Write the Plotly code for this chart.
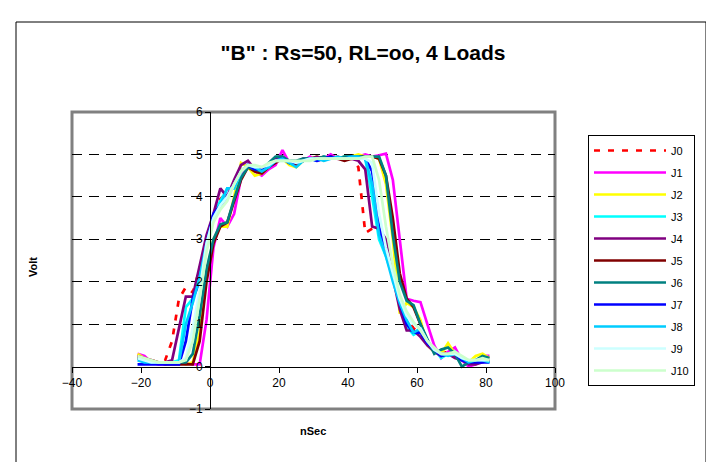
import plotly.graph_objects as go

# time base (ns)
t_ns = [-21, -19, -17, -15, -13, -11, -9, -7, -5, -3, -1, 1, 3,
        5, 7, 9, 11, 13, 15, 17, 19, 21, 23, 25, 27, 29,
        31, 33, 35, 37, 39, 41, 43, 45, 47, 49, 51, 53, 55,
        57, 59, 61, 63, 65, 67, 69, 71, 73, 75, 77, 79, 81]

J0 = [0.25, 0.2, 0.15, 0.1, 0.15, 0.6, 1.6, 1.87, 1.75, 2.3, 3.0, 3.5, 3.95,
      4.1, 4.3, 4.6, 4.75, 4.6, 4.6, 4.75, 4.85, 4.9, 4.8, 4.8, 4.85, 4.9,
      4.9, 4.95, 4.9, 4.95, 4.9, 4.9, 4.7, 3.15, 3.25, 3.15, 2.8, 2.2, 1.6,
      1.2, 0.9, 0.8, 0.55, 0.4, 0.3, 0.35, 0.25, 0.15, 0.1, 0.1, 0.15, 0.15]
J1 = [0.3, 0.25, 0.1, 0.05, 0.05, 0.1, 0.1, 0.1, 0.05, 0.05, 1.1, 2.8, 3.5,
      3.3, 3.6, 4.45, 4.75, 4.6, 4.5, 4.65, 4.75, 5.1, 4.8, 4.75, 4.85, 4.95,
      4.85, 4.9, 5.0, 4.9, 4.95, 4.95, 4.95, 5.0, 4.95, 4.98, 5.02, 4.4, 3.0,
      1.6, 1.55, 1.52, 1.0, 0.5, 0.2, 0.35, 0.45, 0.15, 0.0, 0.05, 0.25, 0.25]
J2 = [0.3, 0.2, 0.15, 0.1, 0.1, 0.1, 0.1, 0.05, 0.1, 0.8, 2.2, 3.0, 3.3,
      3.3, 4.0, 4.8, 4.7, 4.5, 4.55, 4.7, 4.85, 4.9, 4.75, 4.7, 4.85, 4.9,
      4.95, 4.85, 4.95, 4.9, 4.95, 4.95, 5.0, 4.95, 4.95, 4.9, 4.3, 3.0, 1.25,
      1.5, 1.4, 1.1, 0.5, 0.35, 0.3, 0.55, 0.3, 0.2, 0.1, 0.25, 0.3, 0.2]
J3 = [0.2, 0.15, 0.1, 0.1, 0.1, 0.1, 0.15, 1.4, 1.6, 2.2, 3.0, 3.6, 3.9,
      4.2, 4.2, 4.6, 4.75, 4.65, 4.6, 4.7, 4.85, 4.9, 4.8, 4.75, 4.85, 4.9,
      4.85, 4.95, 4.9, 4.9, 4.95, 4.95, 4.9, 4.9, 4.0, 3.0, 2.6, 2.1, 1.5,
      0.95, 0.75, 0.85, 0.6, 0.4, 0.2, 0.3, 0.35, 0.2, 0.1, 0.1, 0.15, 0.1]
J4 = [0.25, 0.2, 0.15, 0.1, 0.1, 0.15, 0.9, 1.65, 1.65, 2.4, 3.1, 3.6, 4.2,
      4.0, 4.4, 4.75, 4.85, 4.65, 4.65, 4.75, 4.9, 4.95, 4.8, 4.8, 4.9, 4.9,
      4.95, 4.9, 4.95, 4.9, 4.9, 4.9, 4.85, 4.65, 3.3, 3.25, 3.0, 2.1, 1.35,
      0.85, 0.85, 0.7, 0.5, 0.35, 0.25, 0.3, 0.2, 0.15, 0.05, 0.05, 0.1, 0.15]
J5 = [0.2, 0.15, 0.1, 0.1, 0.05, 0.05, 0.05, 0.05, 0.05, 0.6, 2.0, 2.9, 3.3,
      3.4, 3.9, 4.4, 4.7, 4.6, 4.55, 4.7, 4.8, 4.9, 4.8, 4.75, 4.85, 4.9,
      4.9, 4.9, 4.95, 4.9, 4.85, 4.9, 4.95, 4.95, 4.95, 4.9, 4.5, 3.5, 2.2,
      1.6, 1.4, 1.0, 0.6, 0.35, 0.3, 0.3, 0.3, 0.2, 0.1, 0.1, 0.15, 0.15]
J6 = [0.2, 0.15, 0.1, 0.1, 0.1, 0.1, 0.1, 0.1, 0.3, 1.2, 2.3, 3.0, 3.35,
      3.4, 3.95, 4.45, 4.7, 4.65, 4.6, 4.8, 4.95, 4.95, 4.85, 4.85, 4.9, 4.9,
      4.9, 4.95, 4.9, 4.9, 4.95, 4.95, 4.95, 4.95, 4.95, 4.95, 4.5, 3.1, 2.0,
      1.55, 1.45, 1.0, 0.65, 0.3, 0.4, 0.45, 0.3, 0.0, 0.1, 0.15, 0.25, 0.2]
J7 = [0.05, 0.05, 0.05, 0.05, 0.05, 0.05, 0.05, 0.6, 1.6, 2.0, 2.9, 3.6, 3.8,
      4.0, 4.3, 4.6, 4.75, 4.65, 4.65, 4.7, 4.85, 4.9, 4.8, 4.8, 4.85, 4.9,
      4.85, 4.9, 4.95, 4.9, 4.9, 4.95, 4.9, 4.9, 4.6, 3.3, 2.7, 2.1, 1.5,
      1.0, 0.8, 0.8, 0.55, 0.4, 0.25, 0.3, 0.3, 0.15, 0.1, 0.1, 0.1, 0.1]
J8 = [0.15, 0.1, 0.1, 0.1, 0.1, 0.1, 0.1, 1.0, 1.5, 2.1, 2.9, 3.5, 3.8,
      4.2, 4.2, 4.6, 4.75, 4.7, 4.6, 4.7, 4.85, 4.9, 4.8, 4.7, 4.85, 4.9,
      4.9, 4.85, 4.9, 4.95, 4.9, 4.95, 4.95, 4.9, 4.3, 3.1, 2.6, 2.0, 1.5,
      1.1, 0.8, 0.9, 0.6, 0.4, 0.3, 0.25, 0.3, 0.2, 0.1, 0.15, 0.15, 0.1]
J9 = [0.2, 0.15, 0.1, 0.1, 0.1, 0.1, 0.1, 0.2, 0.9, 1.8, 2.9, 3.5, 3.8,
      4.0, 4.3, 4.6, 4.75, 4.7, 4.7, 4.75, 4.85, 4.85, 4.85, 4.8, 4.85, 4.9,
      4.9, 4.9, 4.9, 4.9, 4.9, 4.9, 4.9, 4.9, 4.8, 3.6, 2.8, 2.2, 1.6,
      1.2, 1.0, 0.9, 0.6, 0.4, 0.3, 0.3, 0.3, 0.2, 0.15, 0.15, 0.15, 0.15]
J10 = [0.25, 0.2, 0.15, 0.1, 0.1, 0.1, 0.1, 0.15, 0.6, 1.6, 2.7, 3.4, 3.7,
       3.9, 4.3, 4.6, 4.75, 4.75, 4.7, 4.8, 4.85, 4.85, 4.85, 4.85, 4.85, 4.85,
       4.9, 4.9, 4.9, 4.9, 4.9, 4.9, 4.9, 4.95, 4.95, 4.4, 3.3, 2.4, 1.7,
       1.3, 1.05, 0.85, 0.6, 0.45, 0.3, 0.3, 0.35, 0.25, 0.15, 0.15, 0.2, 0.15]

series_names = ["J0", "J1", "J2", "J3", "J4", "J5", "J6", "J7", "J8", "J9", "J10"]
series_values = [J0, J1, J2, J3, J4, J5, J6, J7, J8, J9, J10]
series_colors = ["#FF0000", "#FF00FF", "#FFFF00", "#00FFFF", "#800080", "#800000",
                 "#008080", "#0000FF", "#00CCFF", "#CCFFFF", "#CCFFCC"]

x_ticks = [-40, -20, 0, 20, 40, 60, 80, 100]
y_ticks = [-1, 0, 1, 2, 3, 4, 5, 6]
grid_levels = [1, 2, 3, 4, 5]

title_text = '"B" : Rs=50, RL=oo, 4 Loads'
x_title = "nSec"
y_title = "Volt"

FONT = "Liberation Sans, Arial, sans-serif"
OFF = 8  # page body margin
W, H = 714 - OFF, 462 - OFF
# plot area in page pixels
PL, PT, PR, PB = 72, 112, 555, 409
L, T = PL - OFF, PT - OFF
R, B = W - (PR - OFF), H - (PB - OFF)
PW, PH = PR - PL, PB - PT

def px_x(p):
    return (p - PL) / PW

def px_y(p):
    return (PB - p) / PH

fig = go.Figure()
# empty helper trace so the overlay axis carrying the dashed grid is drawn
fig.add_trace(go.Scatter(x=[None], y=[None], yaxis="y2", mode="lines",
                         showlegend=False, hoverinfo="skip"))
for name, vals, col in zip(series_names, series_values, series_colors):
    assert len(vals) == len(t_ns)
    fig.add_trace(go.Scatter(
        x=t_ns, y=vals, mode="lines", name=name, legendgroup=name,
        line=dict(color=col, width=2.7, dash="6px,8px" if name == "J0" else "solid"),
    ))

xpos0 = (0 - x_ticks[0]) / (x_ticks[-1] - x_ticks[0])
ypos0 = (0 - y_ticks[0]) / (y_ticks[-1] - y_ticks[0])
y_range = [y_ticks[0], y_ticks[-1]]

fig.update_layout(
    width=W, height=H,
    margin=dict(l=L, r=R, t=T, b=B, autoexpand=False),
    paper_bgcolor="white", plot_bgcolor="white",
    font=dict(family=FONT, size=12, color="black"),
    title=dict(text=title_text, x=(363 - OFF) / W, xanchor="center",
               y=1 - (53 - OFF) / H, yanchor="middle",
               font=dict(family=FONT, size=21, color="black", weight="bold")),
    xaxis=dict(range=[x_ticks[0], x_ticks[-1]], tickvals=x_ticks, showgrid=False,
               zeroline=False, showline=True, linecolor="black", linewidth=1,
               anchor="free", position=ypos0, ticks="outside", ticklen=5,
               tickcolor="black", tickfont=dict(size=12)),
    yaxis=dict(range=y_range, tickvals=y_ticks, showgrid=False,
               zeroline=False, showline=True, linecolor="black", linewidth=1,
               anchor="free", position=xpos0, ticks="outside", ticklen=5,
               tickcolor="black", tickfont=dict(size=12)),
    yaxis2=dict(range=y_range, tickvals=grid_levels, overlaying="y", anchor="x",
                side="right",
                showgrid=True, gridcolor="black", gridwidth=1, griddash="10px,7px",
                showticklabels=False, ticks="", zeroline=False, showline=False),
    legend=dict(x=px_x(588), y=px_y(135), xanchor="left", yanchor="top",
                bgcolor="white", bordercolor="black", borderwidth=1,
                font=dict(family=FONT, size=11, color="black"),
                itemwidth=72, tracegroupgap=3),
    showlegend=True,
)

# plot-area frame and chart border
fig.add_shape(type="rect", xref="paper", yref="paper", x0=0, y0=0, x1=1, y1=1,
              line=dict(color="#808080", width=3), layer="below")
fig.add_shape(type="rect", xref="paper", yref="paper",
              x0=px_x(16), x1=px_x(706), y0=px_y(22), y1=px_y(475),
              line=dict(color="black", width=1), layer="below")

fig.add_annotation(text="<b>" + y_title + "</b>", xref="paper", yref="paper",
                   x=px_x(33), y=px_y(267), xanchor="center", yanchor="middle",
                   textangle=-90, showarrow=False,
                   font=dict(family=FONT, size=11, color="black"))
fig.add_annotation(text="<b>" + x_title + "</b>", xref="paper", yref="paper",
                   x=px_x(313), y=px_y(431), xanchor="center", yanchor="middle",
                   showarrow=False,
                   font=dict(family=FONT, size=11, color="black"))

fig.write_html("out.html")
